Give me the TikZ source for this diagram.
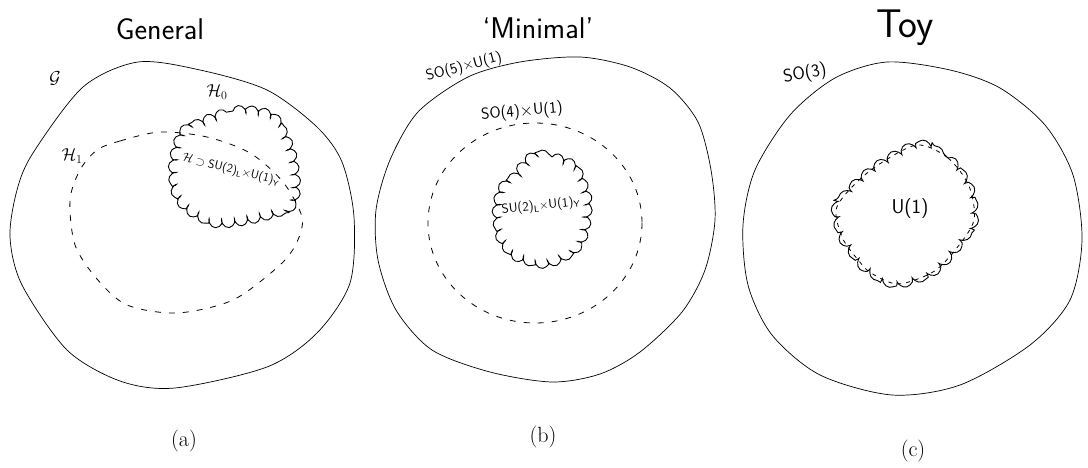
\documentclass[tikz,border=0pt]{standalone}
\usepackage{amsmath,amssymb}
\usepackage{tikz}
\usetikzlibrary{decorations.pathmorphing}

\begin{document}
\begin{tikzpicture}[x=1pt,y=-1pt,
  outerline/.style={draw=black,line width=0.7pt},
  dashline/.style={draw=black,line width=0.8pt,dash pattern=on 6pt off 8pt},
  curlyline/.style={draw=black,line width=0.9pt,decorate,
    decoration={coil,amplitude=4.5pt,segment length=13pt,aspect=0.6}},
  hand/.style={inner sep=0pt,outer sep=0pt,font=\sffamily\fontsize{15}{18}\selectfont},
  headtext/.style={inner sep=0pt,outer sep=0pt,font=\sffamily\fontsize{30}{34}\selectfont},
  capt/.style={inner sep=0pt,outer sep=0pt,font=\fontsize{22}{26}\selectfont}]
\path[use as bounding box] (0,0) rectangle (1088,468);
\path[fill=white,draw=none] (0,0) rectangle (1088,468);
% (a) general
\node[headtext] (genhead) at (160,29) {General};
\draw[outerline] plot[smooth cycle] coordinates {(138,62) (200,70) (267,90) (317,127) (342,162) (354,217) (350,283) (317,333) (267,367) (175,388) (120,381) (67,350) (22,285) (10,237) (17,190) (33,153) (83,87)};
\draw[dashline] plot[smooth cycle] coordinates {(97,150) (120,141) (160,132) (207,137) (250,153) (283,182) (302,217) (297,242) (280,265) (233,300) (177,313) (127,305) (97,279) (75,245) (70,200) (80,170)};
\draw[curlyline] plot[smooth cycle] coordinates {(186,130) (233,111) (271,116) (290,148) (296,185) (289,207) (253,219) (217,223) (189,210) (176,192) (173,170) (176,150)};
\node[hand,font=\fontsize{18}{20}\selectfont] (glabel) at (55,78) {$\mathcal{G}$};
\node[hand,font=\fontsize{18}{20}\selectfont] (honelabel) at (72,156) {$\mathcal{H}_1$};
\node[hand,font=\fontsize{18}{20}\selectfont] (hzerolabel) at (217,92) {$\mathcal{H}_0$};
\node[hand,font=\sffamily\fontsize{12}{14}\selectfont,rotate=-14] (hsub) at (231,170) {$\mathcal{H}\supset{}$SU(2)\textsubscript{L}$\times$U(1)\textsubscript{Y}};
\node[capt] (capa) at (184,441) {(a)};
% (b) minimal
\node[headtext] (minhead) at (538,28) {`Minimal'};
\draw[outerline] plot[smooth cycle] coordinates {(520,62) (580,57) (630,67) (670,88) (698,122) (711,170) (715,220) (705,270) (682,312) (640,352) (600,374) (552,382) (490,372) (432,350) (396,310) (378,260) (376,210) (390,160) (418,112) (468,77)};
\draw[dashline] (535,223) ellipse[x radius=107,y radius=100];
\draw[curlyline] plot[smooth cycle] coordinates {(532,157) (552,157) (574,167) (587,197) (585,230) (574,250) (548,263) (520,258) (503,242) (497,217) (500,193) (511,180)};
\node[hand,rotate=15] (sofive) at (464,67) {SO(5)$\times$U(1)};
\node[hand,font=\sffamily\fontsize{16}{18}\selectfont,rotate=5] (sofour) at (522,112) {SO(4)$\times$U(1)};
\node[hand,font=\sffamily\fontsize{13}{15}\selectfont,rotate=6] (smgroup) at (541,206) {SU(2)\textsubscript{L}$\times$U(1)\textsubscript{Y}};
\node[capt] (capb) at (543,437) {(b)};
% (c) toy
\node[headtext,font=\sffamily\fontsize{40}{44}\selectfont] (toyhead) at (905,28) {Toy};
\draw[outerline] plot[smooth cycle] coordinates {(887,62) (950,70) (1000,88) (1045,125) (1073,175) (1082,240) (1070,300) (1030,345) (960,385) (892,395) (820,375) (772,335) (748,285) (743,225) (755,170) (790,115) (835,78)};
\draw[dashline,dash pattern=on 4pt off 5pt] plot[smooth cycle] coordinates {(917,145) (948,158) (969,186) (974,220) (956,249) (933,272) (898,284) (871,273) (859,261) (843,239) (836,210) (852,187) (878,165)};
\draw[curlyline,decoration={coil,amplitude=4pt,segment length=16pt,aspect=0.6}] plot[smooth cycle] coordinates {(917,145) (948,158) (969,186) (974,220) (956,249) (933,272) (898,284) (871,273) (859,261) (843,239) (836,210) (852,187) (878,165)};
\node[hand,rotate=10,font=\sffamily\fontsize{18}{20}\selectfont] (sothree) at (805,74) {SO(3)};
\node[hand,font=\sffamily\fontsize{20}{22}\selectfont] (uone) at (910,209) {U(1)};
\node[capt] (capc) at (913,451) {(c)};
\end{tikzpicture}
\end{document}
